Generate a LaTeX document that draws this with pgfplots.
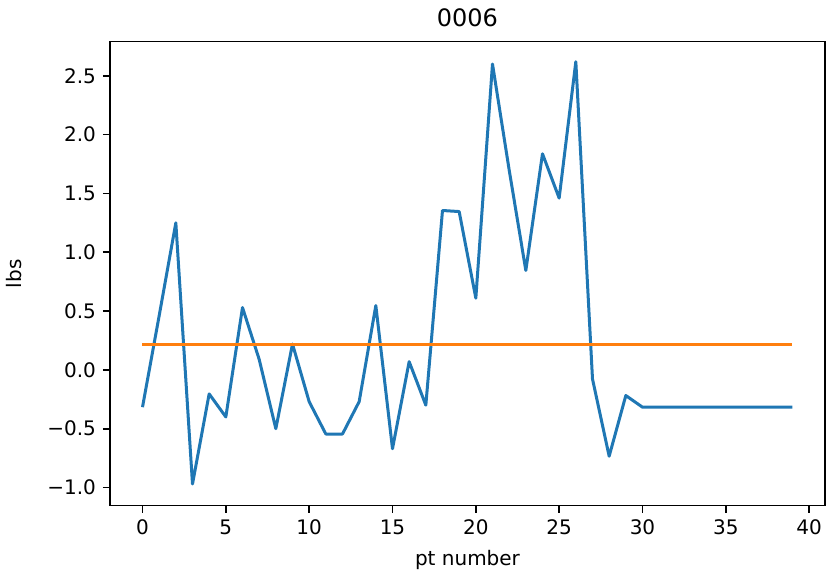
\documentclass[border=0pt]{standalone}
\usepackage{pgfplots}
\pgfplotsset{compat=1.18}
\usepackage{fontspec}
\setmainfont{DejaVu Sans}
\definecolor{mplblue}{HTML}{1F77B4}
\definecolor{mplorange}{HTML}{FF7F0E}
\newcommand{\mminus}{\symbol{"2212}}
\begin{document}
\begin{tikzpicture}
\begin{axis}[
  scale only axis,
  width=357.5pt, height=232pt,
  xmin=-1.95, xmax=40.95,
  ymin=-1.1545, ymax=2.79,
  xtick={0,5,10,15,20,25,30,35,40},
  ytick={-1.0,-0.5,0.0,0.5,1.0,1.5,2.0,2.5},
  yticklabels={\mminus1.0,\mminus0.5,0.0,0.5,1.0,1.5,2.0,2.5},
  /pgf/number format/assume math mode=true,
  tick align=outside,
  major tick length=3.5pt,
  tick style={line width=0.8pt, black},
  axis line style={line width=0.8pt},
  xtick pos=bottom, ytick pos=left,
  tick label style={font=\fontsize{10}{12}\selectfont},
  label style={font=\fontsize{10}{12}\selectfont},
  title style={font=\fontsize{12}{14}\selectfont, yshift=-2pt},
  title={0006},
  xlabel={pt number},
  ylabel={lbs},
  xlabel style={yshift=-1pt},
  ylabel style={yshift=6pt},
  clip=false,
]
\addplot[mplblue, line width=1.5pt, line join=round] coordinates {
(0,-0.317) (1,0.46) (2,1.25) (3,-0.97) (4,-0.204) (5,-0.40) (6,0.53) (7,0.09)
(8,-0.50) (9,0.22) (10,-0.27) (11,-0.545) (12,-0.545) (13,-0.27) (14,0.547)
(15,-0.67) (16,0.07) (17,-0.30) (18,1.355) (19,1.346) (20,0.61) (21,2.60)
(22,1.70) (23,0.845) (24,1.837) (25,1.46) (26,2.62) (27,-0.077) (28,-0.734)
(29,-0.218) (30,-0.317) (31,-0.317) (32,-0.317) (33,-0.317) (34,-0.317)
(35,-0.317) (36,-0.317) (37,-0.317) (38,-0.317) (39,-0.317)
};
\addplot[mplorange, line width=1.5pt] coordinates {
(0,0.212) (39,0.212)
};
\end{axis}
\pgfresetboundingbox
\useasboundingbox (-55pt,-36.5pt) rectangle (358pt,252.85pt);
\end{tikzpicture}
\end{document}
